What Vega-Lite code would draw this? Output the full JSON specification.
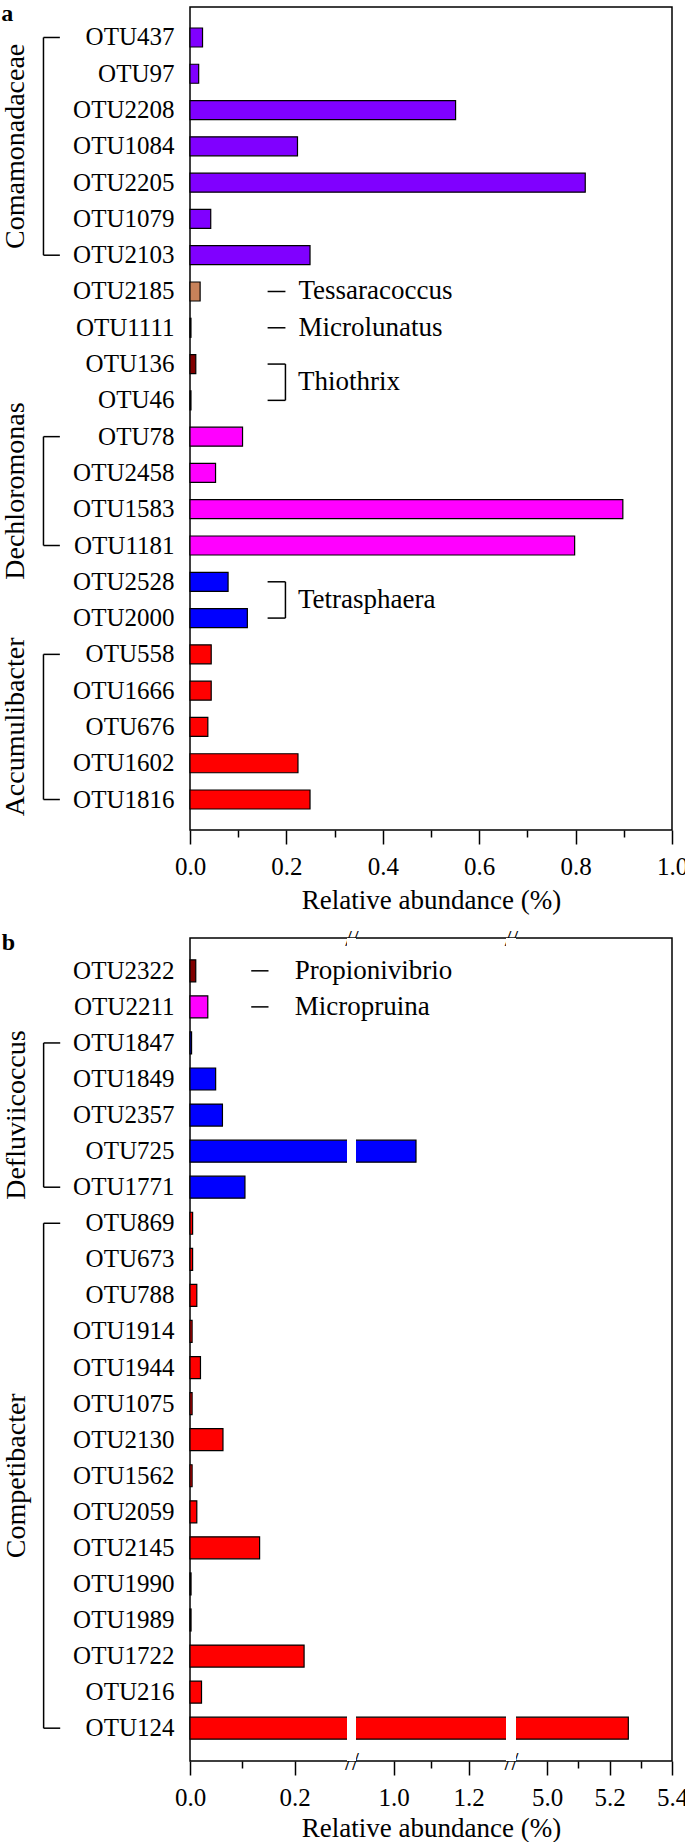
{
  "$schema": "https://vega.github.io/schema/vega-lite/v6.json",
  "padding": {"left": 0, "top": 1, "right": 5, "bottom": 0},
  "background": "white",
  "spacing": 11,
  "datasets": {
    "barsA": [
      {"otu": "OTU437", "genus": "Comamonadaceae", "value": 0.026},
      {"otu": "OTU97", "genus": "Comamonadaceae", "value": 0.018},
      {"otu": "OTU2208", "genus": "Comamonadaceae", "value": 0.551},
      {"otu": "OTU1084", "genus": "Comamonadaceae", "value": 0.223},
      {"otu": "OTU2205", "genus": "Comamonadaceae", "value": 0.820},
      {"otu": "OTU1079", "genus": "Comamonadaceae", "value": 0.043},
      {"otu": "OTU2103", "genus": "Comamonadaceae", "value": 0.249},
      {"otu": "OTU2185", "genus": "Tessaracoccus", "value": 0.021},
      {"otu": "OTU1111", "genus": "Microlunatus", "value": 0.002},
      {"otu": "OTU136", "genus": "Thiothrix", "value": 0.012},
      {"otu": "OTU46", "genus": "Thiothrix", "value": 0.002},
      {"otu": "OTU78", "genus": "Dechloromonas", "value": 0.109},
      {"otu": "OTU2458", "genus": "Dechloromonas", "value": 0.053},
      {"otu": "OTU1583", "genus": "Dechloromonas", "value": 0.898},
      {"otu": "OTU1181", "genus": "Dechloromonas", "value": 0.798},
      {"otu": "OTU2528", "genus": "Tetrasphaera", "value": 0.079},
      {"otu": "OTU2000", "genus": "Tetrasphaera", "value": 0.119},
      {"otu": "OTU558", "genus": "Accumulibacter", "value": 0.044},
      {"otu": "OTU1666", "genus": "Accumulibacter", "value": 0.044},
      {"otu": "OTU676", "genus": "Accumulibacter", "value": 0.037},
      {"otu": "OTU1602", "genus": "Accumulibacter", "value": 0.224},
      {"otu": "OTU1816", "genus": "Accumulibacter", "value": 0.249}
    ],
    "barsB": [
      {"otu": "OTU2322", "genus": "Propionivibrio", "value": 0.011},
      {"otu": "OTU2211", "genus": "Micropruina", "value": 0.034},
      {"otu": "OTU1847", "genus": "Defluviicoccus", "value": 0.003},
      {"otu": "OTU1849", "genus": "Defluviicoccus", "value": 0.049},
      {"otu": "OTU2357", "genus": "Defluviicoccus", "value": 0.062},
      {"otu": "OTU725", "genus": "Defluviicoccus", "value": 1.06},
      {"otu": "OTU1771", "genus": "Defluviicoccus", "value": 0.105},
      {"otu": "OTU869", "genus": "Competibacter", "value": 0.005},
      {"otu": "OTU673", "genus": "Competibacter", "value": 0.005},
      {"otu": "OTU788", "genus": "Competibacter", "value": 0.013},
      {"otu": "OTU1914", "genus": "Competibacter", "value": 0.004},
      {"otu": "OTU1944", "genus": "Competibacter", "value": 0.020},
      {"otu": "OTU1075", "genus": "Competibacter", "value": 0.004},
      {"otu": "OTU2130", "genus": "Competibacter", "value": 0.063},
      {"otu": "OTU1562", "genus": "Competibacter", "value": 0.004},
      {"otu": "OTU2059", "genus": "Competibacter", "value": 0.013},
      {"otu": "OTU2145", "genus": "Competibacter", "value": 0.133},
      {"otu": "OTU1990", "genus": "Competibacter", "value": 0.002},
      {"otu": "OTU1989", "genus": "Competibacter", "value": 0.002},
      {"otu": "OTU1722", "genus": "Competibacter", "value": 0.218},
      {"otu": "OTU216", "genus": "Competibacter", "value": 0.022},
      {"otu": "OTU124", "genus": "Competibacter", "value": 5.26}
    ],
    "groupsA": [
      {"group": "Comamonadaceae", "first": "OTU437", "last": "OTU2103", "mid": "OTU1084"},
      {"group": "Dechloromonas", "first": "OTU78", "last": "OTU1181", "mid": "OTU2458"},
      {"group": "Accumulibacter", "first": "OTU558", "last": "OTU1816", "mid": "OTU676"}
    ],
    "groupsB": [
      {"group": "Defluviicoccus", "first": "OTU1847", "last": "OTU1771", "mid": "OTU2357"},
      {"group": "Competibacter", "first": "OTU869", "last": "OTU124", "mid": "OTU1562"}
    ],
    "singlesA": [
      {"otu": "OTU2185", "label": "Tessaracoccus"},
      {"otu": "OTU1111", "label": "Microlunatus"}
    ],
    "pairsA": [
      {"first": "OTU136", "last": "OTU46", "label": "Thiothrix"},
      {"first": "OTU2528", "last": "OTU2000", "label": "Tetrasphaera"}
    ],
    "singlesB": [
      {"otu": "OTU2322", "label": "Propionivibrio"},
      {"otu": "OTU2211", "label": "Micropruina"}
    ],
    "breaksB": [
      {"from": 0.3, "to": 0.9},
      {"from": 1.3, "to": 4.9}
    ]
  },
  "config": {
    "font": "Liberation Serif",
    "view": {"stroke": "black", "strokeWidth": 1.5},
    "axis": {
      "labelFont": "Liberation Serif", "titleFont": "Liberation Serif",
      "labelColor": "black", "titleColor": "black", "tickColor": "black",
      "tickWidth": 1.5, "labelFontSize": 25, "titleFontSize": 27,
      "titleFontWeight": "normal", "grid": false, "domain": false
    },
    "text": {"font": "Liberation Serif", "color": "black"},
    "rule": {"color": "black", "strokeWidth": 1.5}
  },
  "resolve": {"scale": {"x": "independent", "y": "independent", "color": "independent"}},
  "vconcat": [
    {
      "width": 482,
      "height": 823,
      "resolve": {"axis": {"x": "independent", "y": "independent"}},
      "layer": [
        {
          "data": {"name": "barsA"},
          "mark": {"type": "bar", "size": 19, "stroke": "black", "strokeWidth": 1.2},
          "encoding": {
            "y": {"field": "otu", "type": "nominal",
              "scale": {"type": "band", "domain": ["OTU437","OTU97","OTU2208","OTU1084","OTU2205","OTU1079","OTU2103","OTU2185","OTU1111","OTU136","OTU46","OTU78","OTU2458","OTU1583","OTU1181","OTU2528","OTU2000","OTU558","OTU1666","OTU676","OTU1602","OTU1816"], "paddingInner": 0, "paddingOuter": 0.34},
              "axis": {"orient": "left", "title": null, "ticks": false, "domain": false, "labelPadding": 16, "labelFontSize": 25, "labelFont": "Liberation Serif", "labelColor": "black"}},
            "x": {"field": "value", "type": "quantitative",
              "scale": {"domain": [0, 1], "nice": false, "zero": false},
              "axis": {"orient": "bottom", "title": "Relative abundance (%)", "values": [0, 0.1, 0.2, 0.3, 0.4, 0.5, 0.6, 0.7, 0.8, 0.9, 1.0],
                "format": ".1f", "labelExpr": "round(datum.value*10) % 2 == 1 ? '' : datum.label",
                "tickSize": {"condition": {"test": "round(datum.value*10) % 2 == 1", "value": 7}, "value": 14},
                "labelFont": "Liberation Serif", "titleFont": "Liberation Serif",
                "labelPadding": 10, "titlePadding": 8, "labelFlush": false, "labelOverlap": false, "labelBound": false}},
            "color": {"field": "genus", "type": "nominal", "legend": null,
              "scale": {"domain": ["Comamonadaceae","Tessaracoccus","Microlunatus","Thiothrix","Dechloromonas","Tetrasphaera","Accumulibacter","Propionivibrio","Micropruina","Defluviicoccus","Competibacter"],
                "range": ["#8000FF","#C8825A","#404040","#800000","#FF00FF","#0000FF","#FF0000","#800000","#FF00FF","#0000FF","#FF0000"]}}
          }
        },
        {
          "data": {"name": "groupsA"},
          "mark": {"type": "rule"},
          "encoding": {
            "x": {"datum": -0.304, "type": "quantitative", "axis": null},
            "y": {"field": "first", "type": "nominal", "axis": null},
            "y2": {"field": "last"}
          }
        },
        {
          "data": {"name": "groupsA"},
          "mark": {"type": "rule"},
          "encoding": {
            "x": {"datum": -0.304, "type": "quantitative", "axis": null},
            "x2": {"datum": -0.27},
            "y": {"field": "first", "type": "nominal", "axis": null}
          }
        },
        {
          "data": {"name": "groupsA"},
          "mark": {"type": "rule"},
          "encoding": {
            "x": {"datum": -0.304, "type": "quantitative", "axis": null},
            "x2": {"datum": -0.27},
            "y": {"field": "last", "type": "nominal", "axis": null}
          }
        },
        {
          "data": {"name": "groupsA"},
          "transform": [{"filter": "datum.group != 'Dechloromonas'"}],
          "mark": {"type": "text", "angle": 270, "fontSize": 28, "font": "Liberation Serif", "align": "center", "baseline": "middle"},
          "encoding": {
            "x": {"datum": -0.36, "type": "quantitative", "axis": null},
            "y": {"field": "mid", "type": "nominal", "axis": null, "bandPosition": 0.5},
            "text": {"field": "group"}
          }
        },
        {
          "data": {"name": "groupsA"},
          "transform": [{"filter": "datum.group == 'Dechloromonas'"}],
          "mark": {"type": "text", "angle": 270, "fontSize": 28, "font": "Liberation Serif", "align": "center", "baseline": "middle"},
          "encoding": {
            "x": {"datum": -0.36, "type": "quantitative", "axis": null},
            "y": {"field": "mid", "type": "nominal", "axis": null, "bandPosition": 1},
            "text": {"field": "group"}
          }
        },
        {
          "data": {"name": "singlesA"},
          "mark": {"type": "rule"},
          "encoding": {
            "x": {"datum": 0.161, "type": "quantitative", "axis": null},
            "x2": {"datum": 0.198},
            "y": {"field": "otu", "type": "nominal", "axis": null}
          }
        },
        {
          "data": {"name": "singlesA"},
          "mark": {"type": "text", "fontSize": 27, "font": "Liberation Serif", "align": "left", "baseline": "middle"},
          "encoding": {
            "x": {"datum": 0.225, "type": "quantitative", "axis": null},
            "y": {"field": "otu", "type": "nominal", "axis": null},
            "text": {"field": "label"}
          }
        },
        {
          "data": {"name": "pairsA"},
          "mark": {"type": "rule"},
          "encoding": {
            "x": {"datum": 0.198, "type": "quantitative", "axis": null},
            "y": {"field": "first", "type": "nominal", "axis": null},
            "y2": {"field": "last"}
          }
        },
        {
          "data": {"name": "pairsA"},
          "mark": {"type": "rule"},
          "encoding": {
            "x": {"datum": 0.161, "type": "quantitative", "axis": null},
            "x2": {"datum": 0.198},
            "y": {"field": "first", "type": "nominal", "axis": null}
          }
        },
        {
          "data": {"name": "pairsA"},
          "mark": {"type": "rule"},
          "encoding": {
            "x": {"datum": 0.161, "type": "quantitative", "axis": null},
            "x2": {"datum": 0.198},
            "y": {"field": "last", "type": "nominal", "axis": null}
          }
        },
        {
          "data": {"name": "pairsA"},
          "mark": {"type": "text", "fontSize": 27, "font": "Liberation Serif", "align": "left", "baseline": "middle"},
          "encoding": {
            "x": {"datum": 0.224, "type": "quantitative", "axis": null},
            "y": {"field": "first", "type": "nominal", "axis": null, "bandPosition": 1},
            "text": {"field": "label"}
          }
        },
        {
          "data": {"values": [{"t": "a"}]},
          "mark": {"type": "text", "fontSize": 24, "font": "Liberation Serif", "fontWeight": "bold", "align": "center", "baseline": "alphabetic"},
          "encoding": {
            "x": {"datum": -0.379, "type": "quantitative", "axis": null},
            "y": {"datum": "OTU437", "type": "nominal", "axis": null, "bandPosition": 0.05},
            "text": {"field": "t"}
          }
        }
      ]
    },
    {
      "width": 482,
      "height": 823,
      "resolve": {"axis": {"x": "independent", "y": "independent"}},
      "layer": [
        {
          "data": {"name": "barsB"},
          "mark": {"type": "bar", "size": 22, "stroke": "black", "strokeWidth": 1.2},
          "encoding": {
            "y": {"field": "otu", "type": "nominal",
              "scale": {"type": "band", "domain": ["OTU2322","OTU2211","OTU1847","OTU1849","OTU2357","OTU725","OTU1771","OTU869","OTU673","OTU788","OTU1914","OTU1944","OTU1075","OTU2130","OTU1562","OTU2059","OTU2145","OTU1990","OTU1989","OTU1722","OTU216","OTU124"], "paddingInner": 0, "paddingOuter": 0.41},
              "axis": {"orient": "left", "title": null, "ticks": false, "domain": false, "labelPadding": 16, "labelFontSize": 25, "labelFont": "Liberation Serif", "labelColor": "black"}},
            "x": {"field": "value", "type": "quantitative",
              "scale": {"domain": [0, 0.3, 0.9, 1.3, 4.9, 5.4], "range": [0, 157, 166, 316, 326, 482], "nice": false, "zero": false},
              "axis": {"orient": "bottom", "title": "Relative abundance (%)",
                "values": [0, 0.1, 0.2, 0.6, 1.0, 1.1, 1.2, 3.1, 5.0, 5.1, 5.2, 5.3, 5.4],
                "format": ".1f",
                "labelExpr": "(datum.value == 0.6 || datum.value == 3.1) ? '//' : (indexof([0.1, 1.1, 5.1, 5.3], datum.value) >= 0 ? '' : datum.label)",
                "tickSize": {"condition": {"test": "indexof([0.1, 1.1, 5.1, 5.3], datum.value) >= 0", "value": 7}, "value": 14},
                "tickOpacity": {"condition": {"test": "datum.value == 0.6 || datum.value == 3.1", "value": 0}, "value": 1},
                "labelPadding": {"condition": {"test": "datum.value == 0.6 || datum.value == 3.1", "value": -14}, "value": 10},
                "labelBaseline": {"condition": {"test": "datum.value == 0.6 || datum.value == 3.1", "value": "middle"}, "value": "top"},
                "labelFont": "Liberation Serif", "titleFont": "Liberation Serif",
                "titlePadding": 5, "labelFlush": false, "labelOverlap": false, "labelBound": false}},
            "color": {"field": "genus", "type": "nominal", "legend": null,
              "scale": {"domain": ["Comamonadaceae","Tessaracoccus","Microlunatus","Thiothrix","Dechloromonas","Tetrasphaera","Accumulibacter","Propionivibrio","Micropruina","Defluviicoccus","Competibacter"],
                "range": ["#8000FF","#C8825A","#404040","#800000","#FF00FF","#0000FF","#FF0000","#800000","#FF00FF","#0000FF","#FF0000"]}}
          }
        },
        {
          "data": {"name": "breaksB"},
          "mark": {"type": "rect", "fill": "white", "strokeWidth": 0},
          "encoding": {
            "x": {"field": "from", "type": "quantitative",
              "axis": {"orient": "top", "values": [0.6, 3.1], "labelExpr": "'//'", "ticks": false, "domain": false, "title": null,
                "labelFont": "Liberation Serif", "labelFontSize": 24,
                "labelPadding": 0, "labelBaseline": "middle", "labelFlush": false, "labelOverlap": false, "labelBound": false}},
            "x2": {"field": "to"}
          }
        },
        {
          "data": {"name": "groupsB"},
          "mark": {"type": "rule"},
          "encoding": {
            "x": {"datum": -0.2797, "type": "quantitative", "axis": null},
            "y": {"field": "first", "type": "nominal", "axis": null},
            "y2": {"field": "last"}
          }
        },
        {
          "data": {"name": "groupsB"},
          "mark": {"type": "rule"},
          "encoding": {
            "x": {"datum": -0.2797, "type": "quantitative", "axis": null},
            "x2": {"datum": -0.248},
            "y": {"field": "first", "type": "nominal", "axis": null}
          }
        },
        {
          "data": {"name": "groupsB"},
          "mark": {"type": "rule"},
          "encoding": {
            "x": {"datum": -0.2797, "type": "quantitative", "axis": null},
            "x2": {"datum": -0.248},
            "y": {"field": "last", "type": "nominal", "axis": null}
          }
        },
        {
          "data": {"name": "groupsB"},
          "mark": {"type": "text", "angle": 270, "fontSize": 28, "font": "Liberation Serif", "align": "center", "baseline": "middle"},
          "encoding": {
            "x": {"datum": -0.331, "type": "quantitative", "axis": null},
            "y": {"field": "mid", "type": "nominal", "axis": null, "bandPosition": 0.5},
            "text": {"field": "group"}
          }
        },
        {
          "data": {"name": "singlesB"},
          "mark": {"type": "rule"},
          "encoding": {
            "x": {"datum": 0.117, "type": "quantitative", "axis": null},
            "x2": {"datum": 0.15},
            "y": {"field": "otu", "type": "nominal", "axis": null}
          }
        },
        {
          "data": {"name": "singlesB"},
          "mark": {"type": "text", "fontSize": 27, "font": "Liberation Serif", "align": "left", "baseline": "middle"},
          "encoding": {
            "x": {"datum": 0.2, "type": "quantitative", "axis": null},
            "y": {"field": "otu", "type": "nominal", "axis": null},
            "text": {"field": "label"}
          }
        },
        {
          "data": {"values": [{"t": "b"}]},
          "mark": {"type": "text", "fontSize": 24, "font": "Liberation Serif", "fontWeight": "bold", "align": "center", "baseline": "alphabetic"},
          "encoding": {
            "x": {"datum": -0.347, "type": "quantitative", "axis": null},
            "y": {"datum": "OTU2322", "type": "nominal", "axis": null, "bandPosition": -0.08},
            "text": {"field": "t"}
          }
        }
      ]
    }
  ]
}
